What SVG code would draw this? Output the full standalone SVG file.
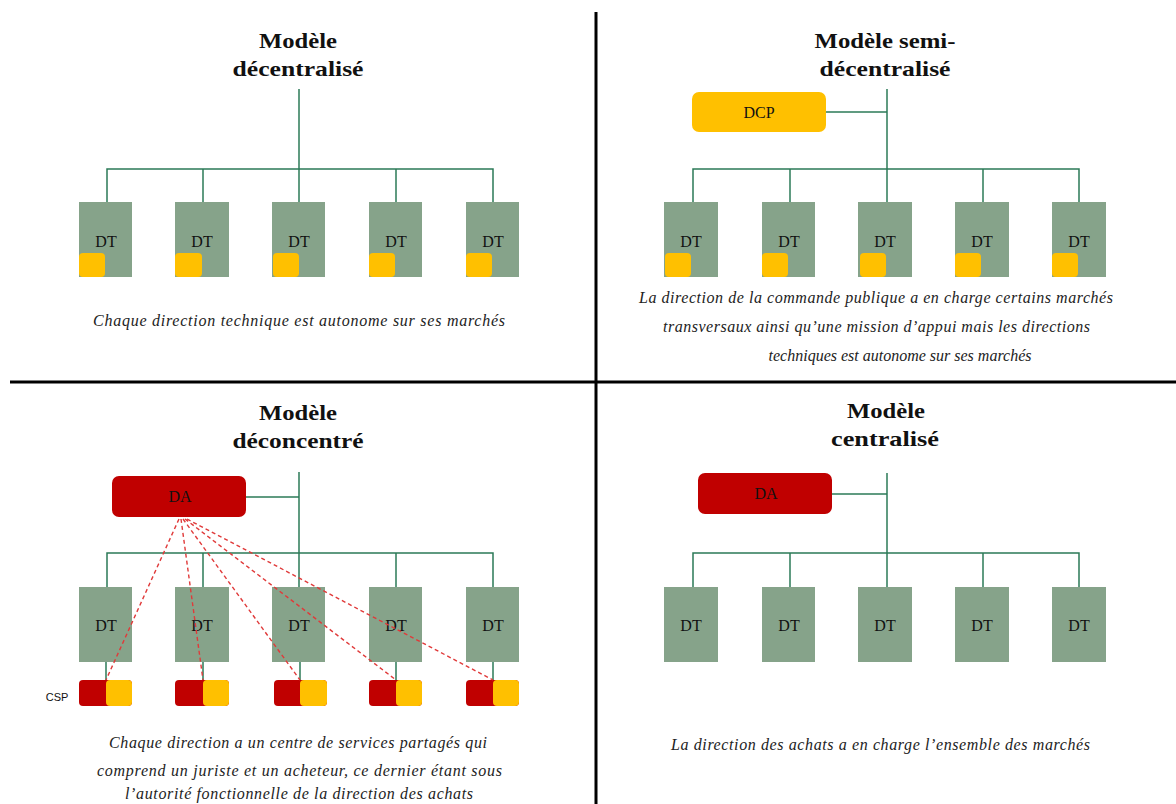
<svg xmlns="http://www.w3.org/2000/svg" width="1176" height="804" viewBox="0 0 1176 804">
<style>
.title{font-family:"Liberation Serif",serif;font-weight:bold;font-size:22px;fill:#111;text-anchor:middle}
.cap{font-family:"Liberation Serif",serif;font-style:italic;font-size:16px;fill:#222}
.dt{fill:#86A38A}
.dtl{font-family:"Liberation Serif",serif;font-size:16px;fill:#111;text-anchor:middle}
.yel{fill:#FFC000}
.red{fill:#C00000}
.ln{stroke:#2B7A57;stroke-width:1.5;fill:none}
.dash{stroke:#E03A3A;stroke-width:1.4;stroke-dasharray:4 3;fill:none}
.div{stroke:#000;stroke-width:3}
</style>
<rect width="1176" height="804" fill="#fff"/>
<g id="dividers">
<line class="div" x1="596" y1="12" x2="596" y2="804"/>
<line class="div" x1="10" y1="382" x2="1176" y2="382"/>
</g>
<g id="titles">
<text class="title" x="298" y="48" textLength="78" lengthAdjust="spacingAndGlyphs">Modèle</text>
<text class="title" x="298" y="76" textLength="131" lengthAdjust="spacingAndGlyphs">décentralisé</text>
<text class="title" x="885" y="48" textLength="141" lengthAdjust="spacingAndGlyphs">Modèle semi-</text>
<text class="title" x="885" y="76" textLength="131" lengthAdjust="spacingAndGlyphs">décentralisé</text>
<text class="title" x="298" y="420" textLength="78" lengthAdjust="spacingAndGlyphs">Modèle</text>
<text class="title" x="298" y="448" textLength="131" lengthAdjust="spacingAndGlyphs">déconcentré</text>
<text class="title" x="886" y="418" textLength="78" lengthAdjust="spacingAndGlyphs">Modèle</text>
<text class="title" x="885" y="446" textLength="108" lengthAdjust="spacingAndGlyphs">centralisé</text>
</g>
<g id="connectors">
<line class="ln" x1="299" y1="89" x2="299" y2="202"/>
<polyline class="ln" points="107,202 107,169 493,169 493,202"/>
<line class="ln" x1="203" y1="169" x2="203" y2="202"/>
<line class="ln" x1="396" y1="169" x2="396" y2="202"/>
<line class="ln" x1="887" y1="89" x2="887" y2="202"/>
<line class="ln" x1="826" y1="112" x2="887" y2="112"/>
<polyline class="ln" points="693,202 693,169 1079,169 1079,202"/>
<line class="ln" x1="790" y1="169" x2="790" y2="202"/>
<line class="ln" x1="983" y1="169" x2="983" y2="202"/>
<line class="ln" x1="299" y1="472" x2="299" y2="587"/>
<line class="ln" x1="246" y1="497" x2="299" y2="497"/>
<polyline class="ln" points="107,587 107,553 493,553 493,587"/>
<line class="ln" x1="203" y1="553" x2="203" y2="587"/>
<line class="ln" x1="396" y1="553" x2="396" y2="587"/>
<line class="ln" x1="106" y1="662" x2="106" y2="680"/>
<line class="ln" x1="203" y1="662" x2="203" y2="680"/>
<line class="ln" x1="300" y1="662" x2="300" y2="680"/>
<line class="ln" x1="396" y1="662" x2="396" y2="680"/>
<line class="ln" x1="493" y1="662" x2="493" y2="680"/>
<line class="ln" x1="887" y1="473" x2="887" y2="587"/>
<line class="ln" x1="832" y1="494" x2="887" y2="494"/>
<polyline class="ln" points="693,587 693,553 1079,553 1079,587"/>
<line class="ln" x1="790" y1="553" x2="790" y2="587"/>
<line class="ln" x1="983" y1="553" x2="983" y2="587"/>
</g>
<g id="tl-nodes">
<g id="tl-dt1"><rect class="dt" x="79" y="202" width="53" height="75"/><rect class="yel" x="79" y="253" width="26" height="24" rx="4"/><text class="dtl" x="106" y="247">DT</text></g>
<g id="tl-dt2"><rect class="dt" x="175" y="202" width="54" height="75"/><rect class="yel" x="175" y="253" width="27" height="24" rx="4"/><text class="dtl" x="202" y="247">DT</text></g>
<g id="tl-dt3"><rect class="dt" x="272" y="202" width="53" height="75"/><rect class="yel" x="273" y="253" width="26" height="24" rx="4"/><text class="dtl" x="299" y="247">DT</text></g>
<g id="tl-dt4"><rect class="dt" x="369" y="202" width="53" height="75"/><rect class="yel" x="369" y="253" width="26" height="24" rx="4"/><text class="dtl" x="396" y="247">DT</text></g>
<g id="tl-dt5"><rect class="dt" x="466" y="202" width="53" height="75"/><rect class="yel" x="466" y="253" width="26" height="24" rx="4"/><text class="dtl" x="493" y="247">DT</text></g>
</g>
<g id="tr-nodes">
<g id="tr-dcp"><rect class="yel" x="692" y="92" width="134" height="40" rx="7"/><text class="dtl" x="759" y="118">DCP</text></g>
<g id="tr-dt1"><rect class="dt" x="664" y="202" width="54" height="75"/><rect class="yel" x="665" y="253" width="26" height="24" rx="4"/><text class="dtl" x="691" y="247">DT</text></g>
<g id="tr-dt2"><rect class="dt" x="762" y="202" width="53" height="75"/><rect class="yel" x="762" y="253" width="26" height="24" rx="4"/><text class="dtl" x="789" y="247">DT</text></g>
<g id="tr-dt3"><rect class="dt" x="858" y="202" width="54" height="75"/><rect class="yel" x="860" y="253" width="26" height="24" rx="4"/><text class="dtl" x="885" y="247">DT</text></g>
<g id="tr-dt4"><rect class="dt" x="955" y="202" width="54" height="75"/><rect class="yel" x="955" y="253" width="26" height="24" rx="4"/><text class="dtl" x="982" y="247">DT</text></g>
<g id="tr-dt5"><rect class="dt" x="1052" y="202" width="54" height="75"/><rect class="yel" x="1052" y="253" width="26" height="24" rx="4"/><text class="dtl" x="1079" y="247">DT</text></g>
</g>
<g id="bl-nodes">
<g id="bl-da"><rect class="red" x="112" y="476" width="134" height="41" rx="7"/><text class="dtl" x="180" y="502">DA</text></g>
<g id="bl-dt1"><rect class="dt" x="79" y="587" width="53" height="75"/><text class="dtl" x="106" y="631">DT</text></g>
<g id="bl-dt2"><rect class="dt" x="175" y="587" width="54" height="75"/><text class="dtl" x="202" y="631">DT</text></g>
<g id="bl-dt3"><rect class="dt" x="272" y="587" width="53" height="75"/><text class="dtl" x="299" y="631">DT</text></g>
<g id="bl-dt4"><rect class="dt" x="369" y="587" width="53" height="75"/><text class="dtl" x="396" y="631">DT</text></g>
<g id="bl-dt5"><rect class="dt" x="466" y="587" width="53" height="75"/><text class="dtl" x="493" y="631">DT</text></g>
<g id="bl-csp1"><rect class="red" x="79" y="680" width="53" height="26" rx="4"/><rect class="yel" x="106" y="680" width="26" height="26" rx="4"/></g>
<g id="bl-csp2"><rect class="red" x="175" y="680" width="54" height="26" rx="4"/><rect class="yel" x="203" y="680" width="26" height="26" rx="4"/></g>
<g id="bl-csp3"><rect class="red" x="274" y="680" width="53" height="26" rx="4"/><rect class="yel" x="300" y="680" width="27" height="26" rx="4"/></g>
<g id="bl-csp4"><rect class="red" x="369" y="680" width="53" height="26" rx="4"/><rect class="yel" x="396" y="680" width="26" height="26" rx="4"/></g>
<g id="bl-csp5"><rect class="red" x="466" y="680" width="53" height="26" rx="4"/><rect class="yel" x="493" y="680" width="26" height="26" rx="4"/></g>
<text x="57" y="701" font-family="Liberation Sans, sans-serif" font-size="11" fill="#111" text-anchor="middle">CSP</text>
</g>
<g id="dashed-connectors">
<line class="dash" x1="179" y1="519" x2="106" y2="680"/>
<line class="dash" x1="181" y1="519" x2="203" y2="680"/>
<line class="dash" x1="183" y1="519" x2="300" y2="680"/>
<line class="dash" x1="185" y1="519" x2="396" y2="680"/>
<line class="dash" x1="187" y1="519" x2="493" y2="680"/>
</g>
<g id="br-nodes">
<g id="br-da"><rect class="red" x="698" y="473" width="134" height="41" rx="7"/><text class="dtl" x="766" y="499">DA</text></g>
<g id="br-dt1"><rect class="dt" x="664" y="587" width="54" height="75"/><text class="dtl" x="691" y="631">DT</text></g>
<g id="br-dt2"><rect class="dt" x="762" y="587" width="53" height="75"/><text class="dtl" x="789" y="631">DT</text></g>
<g id="br-dt3"><rect class="dt" x="858" y="587" width="54" height="75"/><text class="dtl" x="885" y="631">DT</text></g>
<g id="br-dt4"><rect class="dt" x="955" y="587" width="54" height="75"/><text class="dtl" x="982" y="631">DT</text></g>
<g id="br-dt5"><rect class="dt" x="1052" y="587" width="54" height="75"/><text class="dtl" x="1079" y="631">DT</text></g>
</g>
<g id="captions">
<text class="cap" x="93" y="326" textLength="412" lengthAdjust="spacing">Chaque direction technique est autonome sur ses marchés</text>
<text class="cap" x="639" y="303" textLength="474" lengthAdjust="spacing">La direction de la commande publique a en charge certains marchés</text>
<text class="cap" x="663" y="332" textLength="427" lengthAdjust="spacing">transversaux ainsi qu’une mission d’appui mais les directions</text>
<text class="cap" x="900" y="361" text-anchor="middle">techniques est autonome sur ses marchés</text>
<text class="cap" x="109" y="748" textLength="378" lengthAdjust="spacing">Chaque direction a un centre de services partagés qui</text>
<text class="cap" x="97" y="776" textLength="405" lengthAdjust="spacing">comprend un juriste et un acheteur, ce dernier étant sous</text>
<text class="cap" x="125" y="799" textLength="348" lengthAdjust="spacing">l’autorité fonctionnelle de la direction des achats</text>
<text class="cap" x="671" y="750" textLength="419" lengthAdjust="spacing">La direction des achats a en charge l’ensemble des marchés</text>
</g>
</svg>
